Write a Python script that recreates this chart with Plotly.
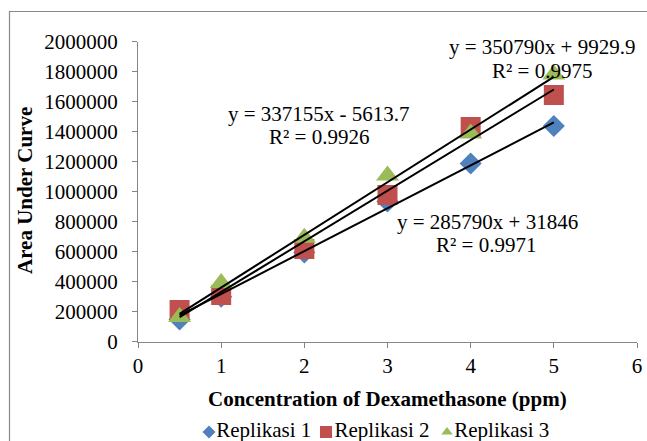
import numpy as np
import plotly.graph_objects as go

# ---------------- Data ----------------
concentration = [0.5, 1, 2, 3, 4, 5]
replikasi_1 = [148000, 300000, 594000, 934000, 1187000, 1437000]
replikasi_2 = [211000, 311000, 618000, 977000, 1430000, 1644000]
replikasi_3 = [164000, 391000, 692000, 1107000, 1387000, 1780000]

series_names = ["Replikasi 1", "Replikasi 2", "Replikasi 3"]
slopes = [285790, 337155, 350790]
intercepts = [31846, -5613.7, 9929.9]
equation_texts = ["y = 285790x + 31846", "y = 337155x - 5613.7", "y = 350790x + 9929.9"]
r2_texts = ["R² = 0.9971", "R² = 0.9926", "R² = 0.9975"]
x_ticks = [0, 1, 2, 3, 4, 5, 6]
y_ticks = [0, 200000, 400000, 600000, 800000, 1000000, 1200000, 1400000, 1600000, 1800000, 2000000]
x_title = "Concentration of Dexamethasone (ppm)"
y_title = "Area Under Curve"

# ---------------- Styles / layout ----------------
colors = ["#4F81BD", "#C0504D", "#9BBB59"]
symbols = ["diamond", "square", "triangle-up"]
sizes = [17, 20, 20]
legend_sizes = [10, 12, 10]
legend_x_px = [209, 326, 447]     # legend symbol centres (pixels)
legend_y_px = 432
eq_pos_px = [(487, 222), (319, 114), (542, 47)]   # centre of the equation line
r2_pos_px = [(486, 245), (319, 137), (542, 71)]

FONT = "Liberation Serif"
W, H = 647, 441
PL, PR, PT, PB = 138, 637, 41.5, 341.7   # plot area in pixels


def fx(p):
    return p / W


def fy(p):
    return 1 - p / H


fig = go.Figure()

# data markers
for name, ys, c, s, sz in zip(series_names, [replikasi_1, replikasi_2, replikasi_3], colors, symbols, sizes):
    fig.add_trace(go.Scatter(x=concentration, y=ys, mode="markers", name=name, showlegend=False,
                             marker=dict(color=c, symbol=s, size=sz, line=dict(width=0))))

# linear trendlines
xfit = np.array([min(concentration), max(concentration)])
for m, b in zip(slopes, intercepts):
    fig.add_trace(go.Scatter(x=xfit, y=m * xfit + b, mode="lines", showlegend=False,
                             line=dict(color="black", width=2), hoverinfo="skip"))

# legend drawn on a pixel-coordinate strip below the plot
for name, c, s, sz, lx in zip(series_names, colors, symbols, legend_sizes, legend_x_px):
    fig.add_trace(go.Scatter(x=[lx], y=[legend_y_px], mode="markers+text", text=[name],
                             textposition="middle right", showlegend=False, hoverinfo="skip",
                             textfont=dict(family=FONT, size=21, color="#000"),
                             marker=dict(color=c, symbol=s, size=sz, line=dict(width=0)),
                             xaxis="x2", yaxis="y2", cliponaxis=False))

# trendline equations
for (ex, ey), t in zip(eq_pos_px, equation_texts):
    fig.add_annotation(xref="paper", yref="paper", x=fx(ex), y=fy(ey), text=t, showarrow=False,
                       xanchor="center", yanchor="middle", font=dict(family=FONT, size=21, color="#000"))
for (ex, ey), t in zip(r2_pos_px, r2_texts):
    fig.add_annotation(xref="paper", yref="paper", x=fx(ex), y=fy(ey), text=t, showarrow=False,
                       xanchor="center", yanchor="middle", font=dict(family=FONT, size=21, color="#000"))

# axis titles
fig.add_annotation(xref="paper", yref="paper", x=fx(387.5), y=fy(399), text="<b>" + x_title + "</b>",
                   showarrow=False, xanchor="center", yanchor="middle",
                   font=dict(family=FONT, size=21, color="#000"))
fig.add_annotation(xref="paper", yref="paper", x=fx(25), y=fy(191), text="<b>" + y_title + "</b>",
                   showarrow=False, xanchor="center", yanchor="middle", textangle=-90,
                   font=dict(family=FONT, size=21, color="#000"))

axis_common = dict(showline=True, linecolor="#868686", linewidth=1, ticks="outside", ticklen=5,
                   tickcolor="#868686", showgrid=False, zeroline=False, automargin=False,
                   tickfont=dict(family=FONT, size=21, color="#000"))

fig.update_layout(
    xaxis=dict(domain=[fx(PL), fx(PR)], range=[0, 6], tickvals=x_ticks, anchor="y", **axis_common),
    yaxis=dict(domain=[fy(PB), fy(PT)], range=[0, 2000000], tickvals=y_ticks, tickformat="d",
               anchor="x", ticklabelstandoff=10, **axis_common),
    xaxis2=dict(domain=[0, 1], range=[0, W], visible=False, anchor="y2", fixedrange=True),
    yaxis2=dict(domain=[0, fy(412)], range=[H, 412], visible=False, anchor="x2", fixedrange=True),
)

# chart frame
fig.add_shape(type="rect", xref="paper", yref="paper", x0=fx(9.5), x1=fx(655), y0=fy(450), y1=fy(11.5),
              line=dict(color="#8a8a8a", width=1.2), fillcolor="rgba(0,0,0,0)", layer="below")

fig.update_layout(
    width=W, height=H,
    margin=dict(l=0, r=0, t=0, b=0),
    paper_bgcolor="white", plot_bgcolor="rgba(0,0,0,0)",
    showlegend=False,
)

fig.write_html("out.html")
